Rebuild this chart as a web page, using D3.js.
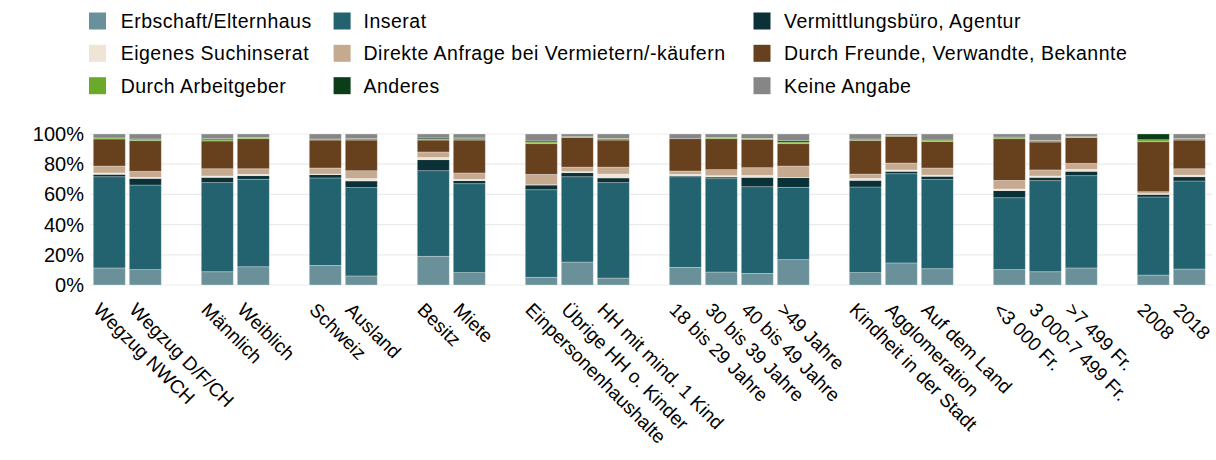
<!DOCTYPE html>
<html>
<head>
<meta charset="utf-8">
<script src="https://cdn.jsdelivr.net/npm/d3@7"></script>
<style>
  html, body { margin: 0; padding: 0; background: #fff; }
  svg { display: block; font-family: "Liberation Sans", Arial, Helvetica, sans-serif; }
</style>
</head>
<body>
<svg id="chart" width="1216" height="460"></svg>
<script>
// ---- Data ----
const groups = [
  ["Wegzug  NWCH", "Wegzug D/F/CH"],
  ["Männlich", "Weiblich"],
  ["Schweiz", "Ausland"],
  ["Besitz", "Miete"],
  ["Einpersonenhaushalte", "Übrige HH o. Kinder", "HH mit mind. 1 Kind"],
  ["18 bis 29 Jahre", "30 bis 39 Jahre", "40 bis 49 Jahre", ">49 Jahre"],
  ["Kindheit in der Stadt", "Agglomeration", "Auf dem Land"],
  ["<3 000 Fr.", "3 000-7 499 Fr.", ">7 499 Fr."],
  ["2008", "2018"]
];
const categories = groups.flat();

const seriesNames = [
  "Erbschaft/Elternhaus", "Inserat", "Vermittlungsbüro, Agentur",
  "Eigenes Suchinserat", "Direkte Anfrage bei Vermietern/-käufern",
  "Durch Freunde, Verwandte, Bekannte", "Durch Arbeitgeber", "Anderes", "Keine Angabe"
];

const erbschaft = [11.3,10.2,8.8,12.1,13.0,6.0,19.0,8.2,5.1,15.2,4.6,11.7,8.6,7.7,16.8,8.2,14.6,10.8,10.2,8.8,11.3,6.6,10.6];
const inserat   = [60.4,56.0,59.0,57.9,57.9,58.5,56.7,58.9,58.0,56.5,63.2,60.0,61.8,57.4,47.9,56.7,59.1,59.0,47.6,60.3,61.1,51.7,58.3];
const vermittlung = [1.6,4.4,3.5,2.4,2.2,4.4,7.3,2.0,3.1,2.7,3.1,0.7,1.1,6.2,6.4,4.4,1.6,2.2,4.7,2.2,2.9,1.7,2.8];
const eigenes   = [0.9,0.7,0.9,0.9,0.4,1.7,1.5,0.9,0.2,0.7,2.6,0.9,0.9,1.3,0.2,1.3,0.9,0.8,1.1,0.9,1.3,0.5,1.1];
const direkte   = [4.6,4.0,4.8,3.7,4.0,5.1,3.6,4.2,6.9,3.0,4.6,2.2,4.0,5.1,7.5,2.9,4.6,4.7,5.7,4.0,4.0,1.3,4.2];
const freunde   = [17.9,20.3,18.4,19.9,18.5,20.3,7.9,21.8,20.3,19.7,17.9,21.4,20.5,18.8,14.8,22.3,17.7,17.6,27.6,18.5,17.0,33.1,19.0];
const arbeitgeber = [0.7,1.1,0.8,0.7,0.7,0.9,0.7,0.9,1.1,0.2,1.1,0.0,0.7,0.6,1.1,0.9,0.4,0.9,1.1,0.9,0.6,1.3,0.9];
const anderes   = [0,0,0.7,0,0,0,0.7,0.5,0.7,0.4,0,0,0,0,1.1,0,0,0,0,0,0,3.8,0];
const keine     = [2.6,3.3,3.1,2.4,3.3,3.1,2.6,2.6,4.6,1.6,2.9,3.1,2.4,2.9,4.2,3.3,1.1,4.0,2.0,4.4,1.8,0,3.1];

const seriesValues = [erbschaft, inserat, vermittlung, eigenes, direkte, freunde, arbeitgeber, anderes, keine];
const colors = ["#6a9199", "#23636f", "#0a3038", "#efe4d6", "#c5aa90", "#67401e", "#6aaa2b", "#0b3e18", "#868686"];
const yTicks = [0, 20, 40, 60, 80, 100];

// legend layout (rows of 3 columns)
const legendOrder = [
  [0, 1, 2],
  [3, 4, 5],
  [6, 7, 8]
];

// ---- Build ----
const svg = d3.select("#chart");

// slot domain with gaps between groups
const slots = [];
groups.forEach((g, i) => {
  if (i > 0) slots.push("__gap" + i);
  g.forEach(c => slots.push(c));
});

const x = d3.scaleBand()
  .domain(slots)
  .range([91.3, 91.3 + slots.length * 36])
  .paddingInner(4 / 36)
  .paddingOuter(2 / 36);

const y = d3.scaleLinear().domain([0, 100]).range([285, 134]);

const rows = categories.map((c, i) => {
  const r = { cat: c };
  seriesNames.forEach((s, j) => r[s] = seriesValues[j][i]);
  return r;
});
const stack = d3.stack().keys(seriesNames)(rows);

// gridlines
svg.append("g")
  .selectAll("line")
  .data(yTicks)
  .join("line")
  .attr("x1", 90).attr("x2", 1212)
  .attr("y1", d => y(d)).attr("y2", d => y(d))
  .attr("stroke", "#ebebeb").attr("stroke-width", 1.2);

// y axis labels
const yAxis = d3.axisLeft(y).tickValues(yTicks).tickFormat(d => d + "%").tickSize(0).tickPadding(0);
const yg = svg.append("g").attr("transform", "translate(84,0)").call(yAxis);
yg.select(".domain").remove();
yg.selectAll("text").attr("font-size", 20).attr("fill", "#000")
  .attr("font-family", "Liberation Sans, Arial, sans-serif");

// bars
const barW = x.bandwidth();
svg.append("g")
  .selectAll("g")
  .data(stack)
  .join("g")
  .attr("fill", (d, i) => colors[i])
  .selectAll("rect")
  .data(d => d)
  .join("rect")
  .attr("x", d => x(d.data.cat))
  .attr("width", barW)
  .attr("y", d => y(d[1]))
  .attr("height", d => Math.max(0, y(d[0]) - y(d[1])))
  .attr("stroke", "#ffffff")
  .attr("stroke-opacity", 0.35)
  .attr("stroke-width", 0.8);

// x labels rotated
svg.append("g")
  .selectAll("text")
  .data(categories)
  .join("text")
  .attr("transform", d => `translate(${x(d) + barW / 2 - 17},311) rotate(45)`)
  .attr("text-anchor", "start")
  .attr("font-size", 19)
  .attr("fill", "#000")
  .text(d => d);

// legend
const colSwatchX = [89, 333.6, 753.5];
const colTextX = [120.7, 363.5, 784];
const rowY = [21, 53.3, 85.7];
const leg = svg.append("g");
legendOrder.forEach((row, ri) => {
  row.forEach((si, ci) => {
    leg.append("rect")
      .attr("x", colSwatchX[ci]).attr("y", rowY[ri] - 8.5)
      .attr("width", 17).attr("height", 17)
      .attr("fill", colors[si]);
    leg.append("text")
      .attr("x", colTextX[ci]).attr("y", rowY[ri])
      .attr("dy", "0.35em")
      .attr("font-size", 19.5)
      .attr("letter-spacing", 0.5)
      .attr("fill", "#000")
      .text(seriesNames[si]);
  });
});
</script>
</body>
</html>
